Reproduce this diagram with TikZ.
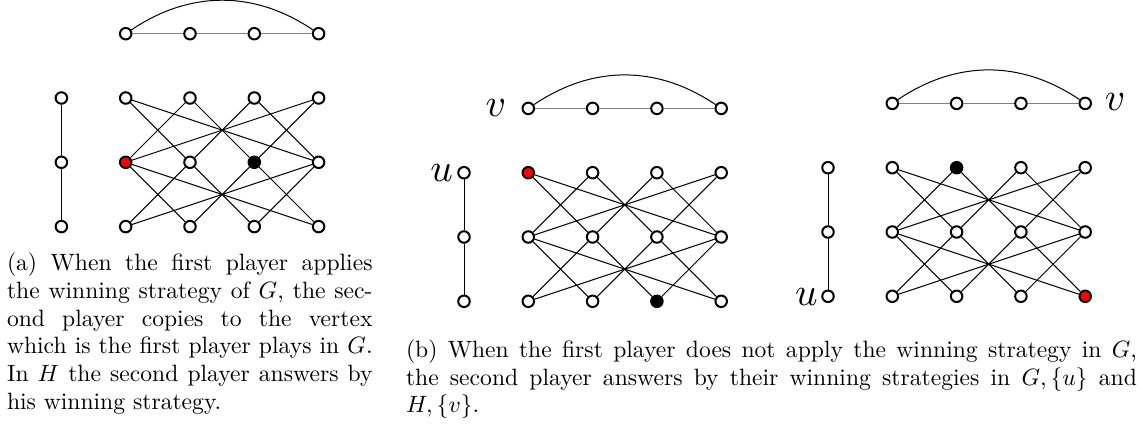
\documentclass[tikz,border=0pt]{standalone}
\usepackage{graphicx}
\newcommand\mygame[5]{%
 \begin{scope}[shift={(#2,#3)}]
  \foreach \i in {0,...,3}{\node[vtx] (#1h\i) at (\i*64.3,-64.3) {};}
  \foreach \j in {0,1,2}{\node[vtx] (#1g\j) at (-64.3,\j*64.3) {};}
  \foreach \i in {0,...,3}{\foreach \j in {0,1,2}{%
     \edef\cur{\i\j}\def\fc{white}%
     \ifnum\cur=#4\relax\def\fc{red}\fi
     \ifnum\cur=#5\relax\def\fc{black}\fi
     \node[vtx,fill=\fc] (#1p\i\j) at (\i*64.3,\j*64.3) {};}}
  \draw[pathedge] (#1h0)--(#1h1) (#1h1)--(#1h2) (#1h2)--(#1h3);
  \draw[arcedge] (#1h0) to (#1h3);
  \draw[edge] (#1g0)--(#1g1) (#1g1)--(#1g2);
  \foreach \i in {0,...,3}{\pgfmathtruncatemacro\n{mod(\i+1,4)}%
     \draw[edge] (#1p\i0)--(#1p\n1) (#1p\i1)--(#1p\n0) (#1p\i2)--(#1p\n1) (#1p\i1)--(#1p\n2);}
 \end{scope}}
\newcommand\bigmath[1]{\scalebox{3.94}{$#1$}}
\newcommand\captxt[2]{\scalebox{2.36}{\parbox[t]{#1}{\fontsize{10}{11.74}\selectfont #2}}}
\begin{document}
\begin{tikzpicture}[x=1pt,y=-1pt,
  vtx/.style={circle,draw=black,line width=2pt,minimum size=11.5pt,inner sep=0pt,fill=white},
  edge/.style={line width=1pt,black},
  pathedge/.style={line width=1.6pt,black!50},
  arcedge/.style={line width=1pt,black,bend left=34},
  lab/.style={inner sep=0pt},
  captext/.style={inner sep=0pt,anchor=base west}]
\useasboundingbox (0,0) rectangle (1143,427);
\mygame{a}{125.7}{98}{01}{21}
\mygame{bL}{528.3}{172.7}{00}{22}
\mygame{bR}{892.3}{167.7}{32}{10}
\node[lab] (lu1) at ([shift={(-22.3,0.8)}]bLg0) {\bigmath{u}};
\node[lab] (lv1) at ([shift={(-32.5,-0.4)}]bLh0) {\bigmath{v}};
\node[lab] (lu2) at ([shift={(-21.5,1.2)}]bRg2) {\bigmath{u}};
\node[lab] (lv2) at ([shift={(29.8,-0.9)}]bRh3) {\bigmath{v}};
\node[captext] (capa) at (6.8,270.7) {\captxt{154.9pt}{(a) When the first player applies\linebreak the winning strategy of $G$, the sec-\linebreak ond player copies to the vertex\linebreak which is the first player plays in $G$.\linebreak In $H$ the second player answers by\linebreak his winning strategy.}};
\node[captext] (capb) at (405.8,357.3) {\captxt{309.7pt}{(b) When the first player does not apply the winning strategy in $G$,\linebreak the second player answers by their winning strategies in $G,\{u\}$ and\linebreak $H,\{v\}$.}};
\end{tikzpicture}
\end{document}
